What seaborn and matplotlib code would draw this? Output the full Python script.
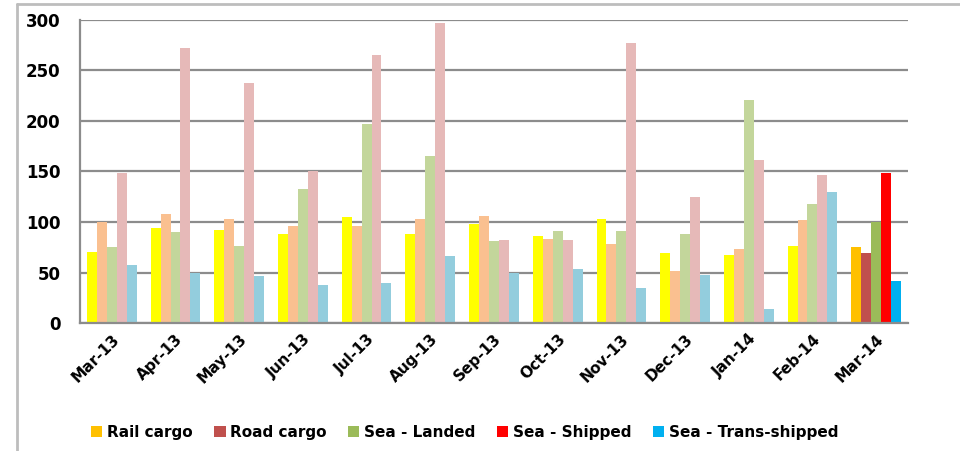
import matplotlib
matplotlib.use("Agg")
import matplotlib.pyplot as plt
import matplotlib.patches as patches
from matplotlib.lines import Line2D
import seaborn as sns
import numpy as np
import pandas as pd

months = ["Mar-13", "Apr-13", "May-13", "Jun-13", "Jul-13", "Aug-13", "Sep-13",
          "Oct-13", "Nov-13", "Dec-13", "Jan-14", "Feb-14", "Mar-14"]
series = ["Rail cargo", "Road cargo", "Sea - Landed", "Sea - Shipped", "Sea - Trans-shipped"]

rail_cargo = [70, 94, 92, 88, 105, 88, 98, 86, 103, 69, 67, 76, 75]
road_cargo = [100, 108, 103, 96, 96, 103, 106, 83, 78, 51, 73, 102, 69]
sea_landed = [75, 90, 76, 133, 197, 165, 81, 91, 91, 88, 221, 118, 100]
sea_shipped = [149, 272, 238, 150, 265, 297, 82, 82, 277, 125, 161, 147, 149]
sea_trans = [57, 50, 47, 38, 40, 66, 50, 53, 35, 48, 14, 130, 42]

light_colors = ["#FFFF00", "#FAC090", "#C3D69B", "#E6B9B8", "#93CDDD"]
strong_colors = ["#FFC000", "#C0504D", "#9BBB59", "#FF0000", "#00B0F0"]

values = [rail_cargo, road_cargo, sea_landed, sea_shipped, sea_trans]
df = pd.DataFrame({
    "month": np.tile(months, len(series)),
    "series": np.repeat(series, len(months)),
    "value": np.concatenate(values),
})

sns.set_style("white")
plt.rcParams["font.family"] = ["DejaVu Sans"]

fig = plt.figure(figsize=(9.6, 4.51), dpi=100)
ax = fig.add_axes([0.0833, 0.2838, 0.8625, 0.6719])

sns.barplot(data=df, x="month", y="value", hue="series", order=months,
            hue_order=series, palette=light_colors, width=0.78, gap=0,
            saturation=1, linewidth=0, legend=False, ax=ax)

# last month drawn in the strong colours
for cont, col in zip(ax.containers, strong_colors):
    cont.patches[-1].set_facecolor(col)

ax.set_ylim(0, 300)
ax.set_xlim(-0.5, len(months) - 0.5)
ax.set_yticks(range(0, 301, 50))
ax.yaxis.grid(True, color="#8c8c8c", linewidth=1.6)
ax.set_axisbelow(True)
ax.set_xlabel("")
ax.set_ylabel("")

for s in ["top", "right"]:
    ax.spines[s].set_visible(False)
for s in ["left", "bottom"]:
    ax.spines[s].set_color("#8c8c8c")
    ax.spines[s].set_linewidth(1.6)

ax.tick_params(axis="y", length=6, width=1.6, color="#8c8c8c", labelsize=12, pad=8)
ax.tick_params(axis="x", which="major", length=0, labelsize=11, pad=6)
ax.set_xticks(np.arange(-0.5, len(months), 1), minor=True)
ax.tick_params(axis="x", which="minor", length=6, width=1.6, color="#8c8c8c")
ax.set_xticklabels(months, rotation=45, ha="right", rotation_mode="anchor")
for lbl in ax.get_xticklabels() + ax.get_yticklabels():
    lbl.set_fontweight("bold")
    lbl.set_color("black")

# legend
handles = [patches.Patch(facecolor=c, edgecolor="none", label=s)
           for s, c in zip(series, strong_colors)]
leg = fig.legend(handles=handles, loc="center", bbox_to_anchor=(0.484, 0.042), ncol=5,
                 frameon=False, handlelength=0.75, handleheight=0.75, handletextpad=0.3,
                 columnspacing=1.4, prop={"weight": "bold", "size": 11})
for t in leg.get_texts():
    t.set_color("black")

# outer chart border (left and top edges visible)
fig.add_artist(Line2D([17 / 960, 17 / 960], [0, 1 - 4 / 451], transform=fig.transFigure,
                      color="#bdbdbd", linewidth=2))
fig.add_artist(Line2D([17 / 960, 1], [1 - 4 / 451, 1 - 4 / 451], transform=fig.transFigure,
                      color="#bdbdbd", linewidth=2))

plt.savefig("out.png", dpi=100)
